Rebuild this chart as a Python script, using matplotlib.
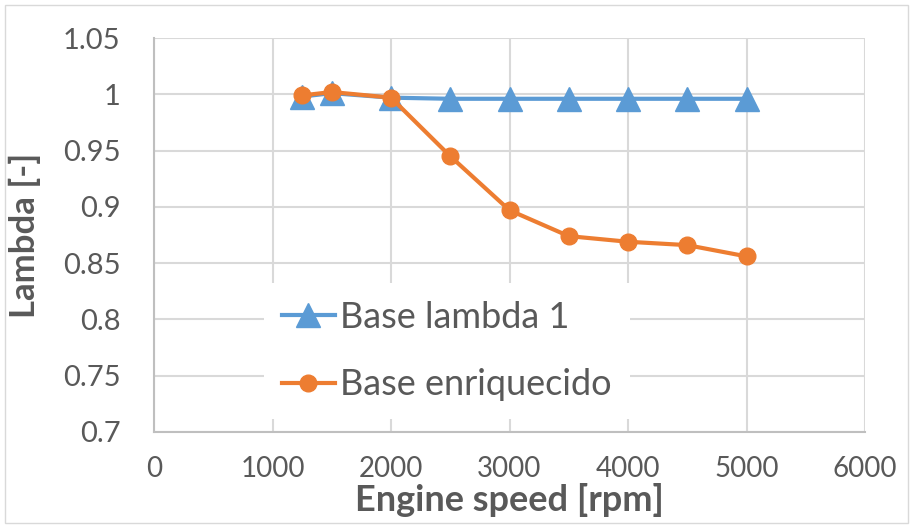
import matplotlib.pyplot as plt
from matplotlib.patches import Rectangle

plt.rcParams['font.family'] = ['Lato', 'DejaVu Sans']

speed = [1250, 1500, 2000, 2500, 3000, 3500, 4000, 4500, 5000]
lambda_1 = [0.998, 1.001, 0.997, 0.996, 0.996, 0.996, 0.996, 0.996, 0.996]
enriquecido = [0.999, 1.002, 0.997, 0.945, 0.897, 0.874, 0.869, 0.866, 0.856]

blue = '#5b9bd5'
orange = '#ed7d31'
grey = '#595959'

fig = plt.figure(figsize=(9.13, 5.26), dpi=100)
ax = fig.add_axes([154 / 913, 1 - 432 / 526, (865 - 154) / 913, (432 - 38) / 526])

ax.plot(speed, lambda_1, color=blue, lw=3, marker='^', ms=17, label='Base lambda 1', zorder=3)
ax.plot(speed, enriquecido, color=orange, lw=3, marker='o', ms=12, label='Base enriquecido', zorder=4)

ax.set_xlim(0, 6000)
ax.set_ylim(0.7, 1.05)
ax.set_xticks(range(0, 6001, 1000))
ax.set_yticks([0.7, 0.75, 0.8, 0.85, 0.9, 0.95, 1.0, 1.05])
ax.set_yticklabels(['0.7', '0.75', '0.8', '0.85', '0.9', '0.95', '1', '1.05'])
ax.grid(True, color='#d9d9d9', lw=1.5)
ax.set_axisbelow(True)
for s in ['top', 'right']:
    ax.spines[s].set_visible(False)
for s in ['left', 'bottom']:
    ax.spines[s].set_color('#bfbfbf')
    ax.spines[s].set_linewidth(1.5)
ax.tick_params(axis='y', length=0, labelsize=21, labelcolor=grey, pad=24)
ax.tick_params(axis='x', length=0, labelsize=20, labelcolor=grey, pad=17)

ax.set_xlabel('Engine speed [rpm]', fontsize=26, fontweight='bold', color=grey, labelpad=1)
ax.set_ylabel('Lambda [-]', fontsize=25, fontweight='bold', color=grey, labelpad=16)

leg = ax.legend(loc='upper left', bbox_to_anchor=(0.155, 0.378), fontsize=26, frameon=True,
                handlelength=1.45, handletextpad=0.15, labelspacing=0.95, labelcolor=grey,
                borderpad=0.5, borderaxespad=0)
leg.get_frame().set_edgecolor('none')
leg.get_frame().set_facecolor('white')
leg.get_frame().set_alpha(1)
leg.get_frame().set_boxstyle('square', pad=0)

fig.patches.append(Rectangle((0.005, 0.005), 0.99, 0.985, transform=fig.transFigure,
                             fill=False, edgecolor='#d9d9d9', lw=1))

fig.savefig('out.png', dpi=100)
